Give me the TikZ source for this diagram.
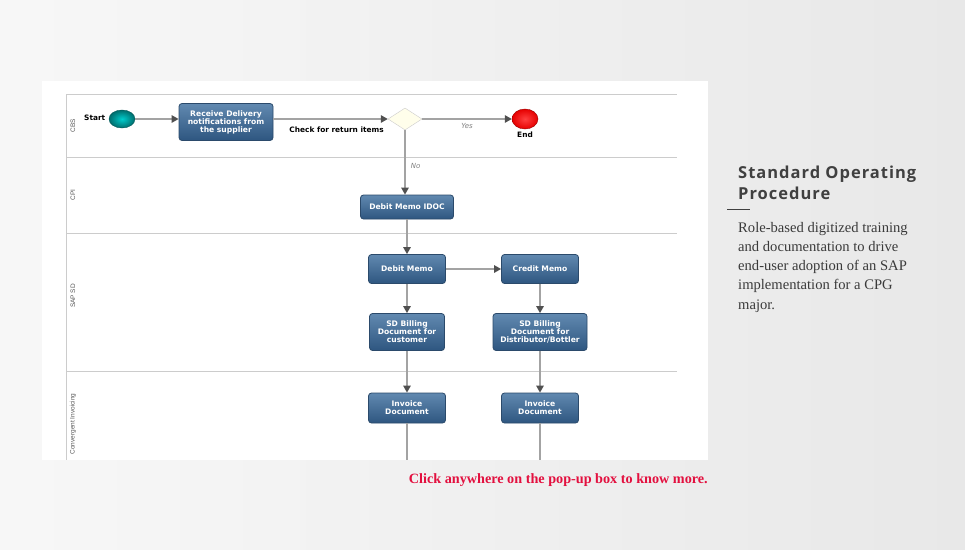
\documentclass[tikz,border=0pt]{standalone}
\usepackage{fontspec}
\setmainfont{Liberation Serif}
\setsansfont{Liberation Sans}
\newfontfamily\headfont[LetterSpace=6]{Open Sans}
\newfontfamily\boxfont{DejaVu Sans}
\usetikzlibrary{arrows.meta,shapes.geometric,positioning}

\definecolor{tasktop}{HTML}{6189B0}
\definecolor{taskbottom}{HTML}{2E5680}
\definecolor{taskborder}{HTML}{2B4A6B}
\definecolor{flowgray}{HTML}{A3A3A3}
\definecolor{tipgray}{HTML}{505050}
\definecolor{lanegray}{HTML}{CCCCCC}
\definecolor{headgray}{HTML}{404040}
\definecolor{clickred}{HTML}{E3103F}

\tikzstyle{task} = [rectangle, rounded corners=3pt, draw=taskborder, line width=0.8pt, top color=tasktop, bottom color=taskbottom, text=white, font=\boxfont\bfseries\fontsize{7.6}{8}\selectfont, align=center, inner sep=1pt]
\tikzstyle{flow} = [draw=flowgray, line width=1.3pt, -{Triangle[length=7pt,width=7.5pt,color=tipgray]}]
\tikzstyle{lane} = [draw=lanegray, line width=1pt]
\tikzstyle{lanelabel} = [rotate=90, text=black!65, font=\sffamily\fontsize{6.5}{7}\selectfont]
\tikzstyle{small} = [font=\boxfont\bfseries\fontsize{7.4}{8}\selectfont]
\tikzstyle{answer} = [text=gray, font=\boxfont\itshape\fontsize{7}{8}\selectfont]

\begin{document}
\begin{tikzpicture}[x=1pt, y=-1pt]
\useasboundingbox (0,0) rectangle (965,549);
%achtergrond
\shade[shading=axis, shading angle=60, left color=white!94!gray, right color=gray!18] (0,0) rectangle (965,549);
\fill[white] (42,81) rectangle (708,460);
%begin lanes
\draw[lane] (66,94) -- (66,460);
\foreach \y in {94,157,233,371}
    \draw[lane] (66,\y) -- (677,\y);
\node[lanelabel] (cbs) at (73,126) {CBS};
\node[lanelabel] (cpi) at (73,195) {CPI};
\node[lanelabel] (sapsd) at (73,296) {SAP SD};
\node[lanelabel] (ci) at (73,424) {Convergent Invoicing};
%end lanes
%begin lane CBS
\node[ellipse, draw=teal!70!black, inner color=cyan!60!teal, outer color=teal!85!black, minimum width=26pt, minimum height=18pt] (start) at (122,119) {};
\node[small, left=0pt of start, yshift=1.5pt] (startlabel) {Start};
\node[task, minimum width=94pt, minimum height=37pt] (receive) at (226,122) {Receive Delivery\\notifications from\\the supplier};
\node[diamond, draw=lanegray, fill=yellow!8!white, minimum width=34pt, minimum height=22pt, inner sep=0pt] (check) at (405,119) {};
\node[ellipse, draw=red!60!black, inner color=red!75, outer color=red!90!black, minimum width=26pt, minimum height=20pt] (end) at (525,119) {};
\node[small, below=-1pt of end] (endlabel) {End};
\draw[flow] (start) -- (start -| receive.west);
\draw[flow] (receive.east |- check) -- (check)
    node[small, pos=0.5, below=4pt, xshift=6pt] {Check for return items};
\draw[flow] (check) -- (end)
    node[answer, pos=0.5, below=0pt] {Yes};
%end lane CBS
%begin lane CPI
\node[task, minimum width=93pt, minimum height=24pt] (idoc) at (407,207) {Debit Memo IDOC};
\draw[flow] (check) -- (check |- idoc.north)
    node[answer, pos=0.55, right=2pt] {No};
%end lane CPI
%begin lane SAP SD
\node[task, minimum width=77pt, minimum height=29pt] (debit) at (407,269) {Debit Memo};
\node[task, minimum width=77pt, minimum height=29pt] (credit) at (540,269) {Credit Memo};
\node[task, minimum width=75pt, minimum height=37pt] (billcust) at (407,332) {SD Billing\\Document for\\customer};
\node[task, minimum width=94pt, minimum height=37pt] (billdist) at (540,332) {SD Billing\\Document for\\Distributor/Bottler};
\draw[flow] (idoc) -- (debit);
\draw[flow] (debit) -- (credit);
\draw[flow] (debit) -- (billcust);
\draw[flow] (credit) -- (billdist);
%end lane SAP SD
%begin lane Convergent Invoicing
\node[task, minimum width=77pt, minimum height=30pt] (invcust) at (407,408) {Invoice\\Document};
\node[task, minimum width=77pt, minimum height=30pt] (invdist) at (540,408) {Invoice\\Document};
\coordinate (outcust) at (407,460);
\coordinate (outdist) at (540,460);
\draw[flow] (billcust) -- (invcust);
\draw[flow] (billdist) -- (invdist);
\draw[draw=flowgray, line width=1.3pt] (invcust) -- (outcust);
\draw[draw=flowgray, line width=1.3pt] (invdist) -- (outdist);
%end lane Convergent Invoicing
%begin tekst rechts
\node[anchor=north west, inner sep=0pt, text=headgray, align=left, font=\headfont\bfseries\fontsize{16.5}{21}\selectfont] (title) at (738,166) {Standard Operating\\Procedure};
\coordinate (rulestart) at (727,209);
\coordinate (ruleend) at (750,209);
\draw[headgray, line width=0.8pt] (rulestart) -- (ruleend);
\node[anchor=north west, inner sep=0pt, text=headgray!90!black, align=left, font=\rmfamily\fontsize{14.6}{19.2}\selectfont] (body) at (738,222) {Role-based digitized training\\and documentation to drive\\end-user adoption of an SAP\\implementation for a CPG\\major.};
\node[anchor=east, inner sep=0pt, text=clickred, font=\rmfamily\bfseries\fontsize{14.2}{15}\selectfont] (click) at (708,480) {Click anywhere on the pop-up box to know more.};
%end tekst rechts
\end{tikzpicture}
\end{document}
